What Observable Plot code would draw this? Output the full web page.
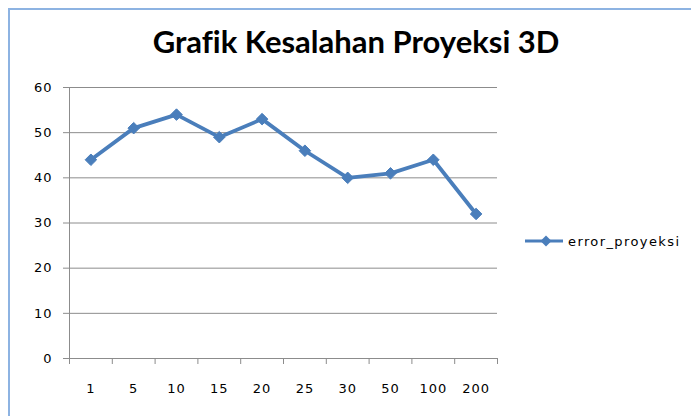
<!DOCTYPE html>
<html><head><meta charset="utf-8">
<script src="https://cdn.jsdelivr.net/npm/d3@7"></script>
<script src="https://cdn.jsdelivr.net/npm/@observablehq/plot@0.6"></script>
<style>
body{margin:0;background:#fff;}
#wrap{position:relative;width:691px;height:416px;overflow:hidden;background:#fff;}
#frame{position:absolute;left:8px;top:8px;width:700px;height:420px;border-left:2px solid #8db3e2;border-top:2px solid #8db3e2;box-sizing:border-box;}
#title{position:absolute;left:0;top:22px;width:712px;text-align:center;font-family:Lato,"Open Sans",sans-serif;font-weight:bold;font-size:31px;color:#000;white-space:nowrap;font-variant-ligatures:none;font-feature-settings:"liga" 0;}
#legend{position:absolute;left:525px;top:232px;height:18px;display:flex;align-items:center;font-family:"DejaVu Sans",sans-serif;font-size:13px;letter-spacing:1.4px;color:#000;}
#chart{position:absolute;left:0;top:0;}
</style></head>
<body>
<div id="wrap">
  <div id="frame"></div>
  <div id="chart"></div>
  <div id="title"></div>
  <div id="legend"></div>
</div>
<script>
const chartTitle = "Grafik Kesalahan Proyeksi 3D";
const seriesName = "error_proyeksi";
const categories = ["1", "5", "10", "15", "20", "25", "30", "50", "100", "200"];
const errorValues = [44, 51, 54, 49, 53, 46, 40, 41, 44, 32];
const yTicks = [0, 10, 20, 30, 40, 50, 60];

const data = categories.map((c, i) => ({cat: c, value: errorValues[i]}));

const W = 691, H = 416, mL = 69, mR = 194, mT = 87, mB = 58;
const bw = (W - mL - mR) / categories.length;
const lineColor = "#4a7ebb";
const gridColor = "#8c8c8c";

const plot = Plot.plot({
  width: W, height: H,
  marginLeft: mL, marginRight: mR, marginTop: mT, marginBottom: mB,
  style: {fontFamily: "'DejaVu Sans', sans-serif", fontSize: "13px", letterSpacing: "1px", color: "#000", background: "transparent"},
  x: {type: "band", domain: categories, padding: 0, round: false, label: null},
  y: {domain: [0, 60], label: null},
  marks: [
    Plot.gridY(yTicks, {stroke: gridColor, strokeOpacity: 1}),
    Plot.frame({anchor: "left", stroke: gridColor}),
    Plot.ruleY([0], {stroke: gridColor}),
    Plot.ruleX(categories, {x: d => d, y1: 0, y2: 0, insetBottom: -6, dx: -bw / 2, stroke: gridColor}),
    Plot.ruleX(categories.slice(-1), {x: d => d, y1: 0, y2: 0, insetBottom: -6, dx: bw / 2, stroke: gridColor}),
    Plot.axisY(yTicks, {tickSize: 6, tickPadding: 11, stroke: gridColor, fill: "#000", label: null}),
    Plot.axisX({tickSize: 0, tickPadding: 25, label: null, fill: "#000"}),
    Plot.line(data, {x: "cat", y: "value", stroke: lineColor, strokeWidth: 3.8, strokeLinejoin: "round"}),
    Plot.dot(data, {x: "cat", y: "value", symbol: "diamond2", r: 5.2, fill: lineColor, stroke: lineColor, strokeWidth: 1})
  ]
});
document.getElementById("chart").appendChild(plot);
document.getElementById("title").textContent = chartTitle;

const lg = document.getElementById("legend");
lg.innerHTML = `<svg width="42" height="18" style="display:block"><line x1="0" x2="38" y1="9" y2="9" stroke="${lineColor}" stroke-width="3"/><path d="M21,3.5L26.5,9L21,14.5L15.5,9Z" fill="${lineColor}"/></svg><span style="margin-left:1px">${seriesName}</span>`;
</script>
</body></html>
